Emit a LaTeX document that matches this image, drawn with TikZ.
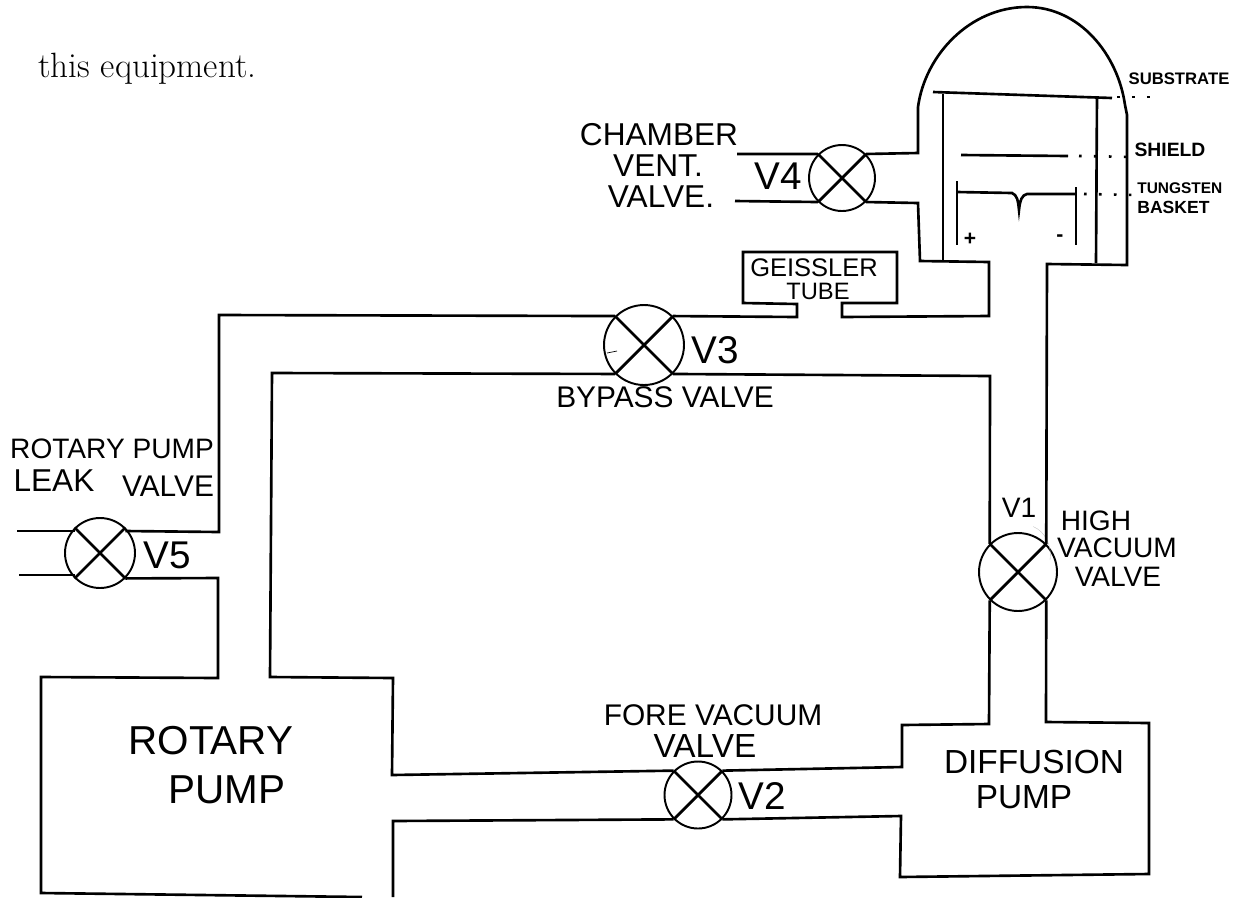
\documentclass[tikz,border=0pt]{standalone}
\usepackage{fontspec}
\newfontfamily\handfont{Liberation Sans}
\usetikzlibrary{positioning}
\tikzset{pipe/.style={line width=1.5pt, line join=miter},
  valve/.style={draw, circle, line width=1.1pt, inner sep=0pt},
  crossbar/.style={line width=1.6pt},
  bigtext/.style={font=\handfont\fontsize{23}{23}\selectfont, inner sep=0pt},
  midtext/.style={font=\handfont\fontsize{19}{19}\selectfont, inner sep=0pt},
  lowtext/.style={font=\handfont\fontsize{16}{16}\selectfont, inner sep=0pt},
  tinytext/.style={font=\handfont\bfseries\fontsize{9.5}{9.5}\selectfont, inner sep=0pt},
  numtext/.style={font=\handfont\fontsize{22}{22}\selectfont, inner sep=0pt},
  dotline/.style={line width=1.5pt, dash pattern=on 1.5pt off 7pt}}

\begin{document}
\begin{tikzpicture}[x=0.02cm, y=-0.02cm]
  \useasboundingbox (0,0) rectangle (1235,897);
  % valves
  \node[valve, minimum size=1.32cm] (v4) at (842,178) {};
  \node[valve, minimum size=1.60cm] (v3) at (644,345) {};
  \node[valve, minimum size=1.40cm] (v5) at (100,553) {};
  \node[valve, minimum size=1.56cm] (v1) at (1018,572) {};
  \node[valve, minimum size=1.34cm] (v2) at (698,795) {};
  \foreach \v in {v1,v2,v3,v4,v5} {
    \draw[crossbar] (\v.north west) -- (\v.south east);
    \draw[crossbar] (\v.north east) -- (\v.south west);
  }
  \draw[thin] (607,353) -- (617,351);
  \draw[gray!50, very thin] (1050,560) arc (10:-70:26 and 30);

  % chamber and the outer pipe line
  \draw[pipe] (v4.north east) -- (918,153) -- (918,107)
    .. controls (925,55) and (970,7) .. (1027,7)
    .. controls (1080,7) and (1118,55) .. (1125,105)
    -- (1127,115) -- (1127,265) -- (1047,264) -- (v1.north east);
  \draw[pipe] (v4.south east) -- (918,203) -- (920,261) -- (989,262)
    -- (989,316) -- (842,317) -- (842,303) -- (897,303) -- (897,252)
    -- (743,252) -- (743,303) -- (797,304) -- (797,317) -- (v3.north east);
  \coordinate (ventTop) at (737,154);
  \coordinate (ventLow) at (735,201);
  \draw[pipe] (ventTop) -- (v4.north west);
  \draw[pipe] (ventLow) -- (v4.south west);

  % bypass line
  \draw[pipe] (v3.north west) -- (219,315) -- (219,532) -- (v5.north east |- 0,531);
  \draw[pipe] (v3.south west) -- (272,373) -- (270,677) -- (393,678)
    -- (392,775) -- (v2.north west);
  \draw[pipe] (v3.south east) -- (990,376) -- (v1.north west);
  \draw[pipe] (v1.south west) -- (989,724) -- (902,725) -- (902,767) -- (v2.north east);
  \draw[pipe] (v1.south east) -- (1046,722) -- (1149,723) -- (1149,874) -- (900,877)
    -- (901,816) -- (v2.south east);
  \coordinate (leakTop) at (17,531);
  \coordinate (leakLow) at (19,575);
  \draw[pipe] (leakTop) -- (leakTop -| v5.north west);
  \draw[pipe] (leakLow) -- (leakLow -| v5.south west);
  \coordinate (cutA) at (393,897);
  \coordinate (cutB) at (362,897);
  \draw[pipe] (v5.south east) -- (218,578) -- (218,678) -- (41,677) -- (41,893) -- (cutB);
  \draw[pipe] (v2.south west) -- (393,821) -- (cutA);

  % inside of the chamber
  \draw[pipe] (933,92) -- (1112,98);
  \draw[pipe] (943,94) -- (943,260);
  \draw[pipe] (1097,96) -- (1096,263);
  \draw[pipe] (961,155) -- (1068,156);
  \draw[pipe] (957,181) -- (957,245);
  \draw[pipe] (1076,187) -- (1076,245);
  \draw[pipe] (957,192) -- (1012,193) .. controls (1017,195) and (1018,200) .. (1019,210)
    .. controls (1020,200) and (1022,195) .. (1027,194) -- (1076,194);
  \draw[dotline] (1117,97) -- (1156,97);
  \draw[dotline] (1079,156) -- (1134,157);
  \draw[dotline] (1084,194) -- (1138,195);
  \node[font=\handfont\bfseries\large, inner sep=0pt] (plus) at (970,239) {+};
  \node[font=\handfont\bfseries\large, inner sep=0pt] (minus) at (1060,238) {-};

  % labels
  \node[anchor=base west, inner sep=0pt, font=\fontsize{20}{20}\selectfont] (equip) at (38,77) {this equipment.};
  \node[midtext, font=\handfont\fontsize{18}{18}\selectfont] (tChamber) at (659,135) {CHAMBER};
  \node[midtext, font=\handfont\fontsize{18}{18}\selectfont] (tVent) at (658,166) {VENT.};
  \node[midtext, font=\handfont\fontsize{18}{18}\selectfont] (tVentValve) at (661,197) {VALVE.};
  \node[numtext] (tV4) at (778,176) {V4};
  \node[lowtext, font=\handfont\fontsize{14.5}{14.5}\selectfont] (tGeissler) at (814,268) {GEISSLER};
  \node[lowtext, font=\handfont\fontsize{13.5}{13.5}\selectfont] (tTube) at (818,291) {TUBE};
  \node[numtext] (tV3) at (715,350) {V3};
  \node[lowtext, font=\handfont\fontsize{17}{17}\selectfont] (tBypass) at (665,397) {BYPASS VALVE};
  \node[lowtext] (tLeakA) at (112,449) {ROTARY PUMP};
  \node[lowtext, font=\handfont\fontsize{18}{18}\selectfont] (tLeakB) at (54,481) {LEAK};
  \node[lowtext, font=\handfont\fontsize{17}{17}\selectfont] (tLeakC) at (168,486) {VALVE};
  \node[numtext] (tV5) at (167,555) {V5};
  \node[bigtext] (tRotary) at (211,741) {ROTARY};
  \node[bigtext] (tRotaryB) at (227,790) {PUMP};
  \node[lowtext, font=\handfont\fontsize{17}{17}\selectfont] (tFore) at (713,715) {FORE VACUUM};
  \node[midtext] (tForeB) at (705,746) {VALVE};
  \node[numtext] (tV2) at (762,796) {V2};
  \node[midtext] (tDiff) at (1034,762) {DIFFUSION};
  \node[midtext] (tDiffB) at (1024,797) {PUMP};
  \node[numtext, font=\handfont\fontsize{16}{16}\selectfont] (tV1) at (1019,508) {V1};
  \node[lowtext] (tHigh) at (1096,521) {HIGH};
  \node[lowtext] (tVacuum) at (1117,548) {VACUUM};
  \node[lowtext] (tValve) at (1118,577) {VALVE};
  \node[tinytext] (tSub) at (1179,79) {SUBSTRATE};
  \node[tinytext, font=\handfont\bfseries\fontsize{11}{11}\selectfont] (tShield) at (1170,150) {SHIELD};
  \node[tinytext, anchor=west, font=\handfont\bfseries\fontsize{8.8}{8.8}\selectfont] (tTung) at (1137,188) {TUNGSTEN};
  \node[tinytext, anchor=west, font=\handfont\bfseries\fontsize{10}{10}\selectfont] (tBasket) at (1137,207) {BASKET};
\end{tikzpicture}
\end{document}
